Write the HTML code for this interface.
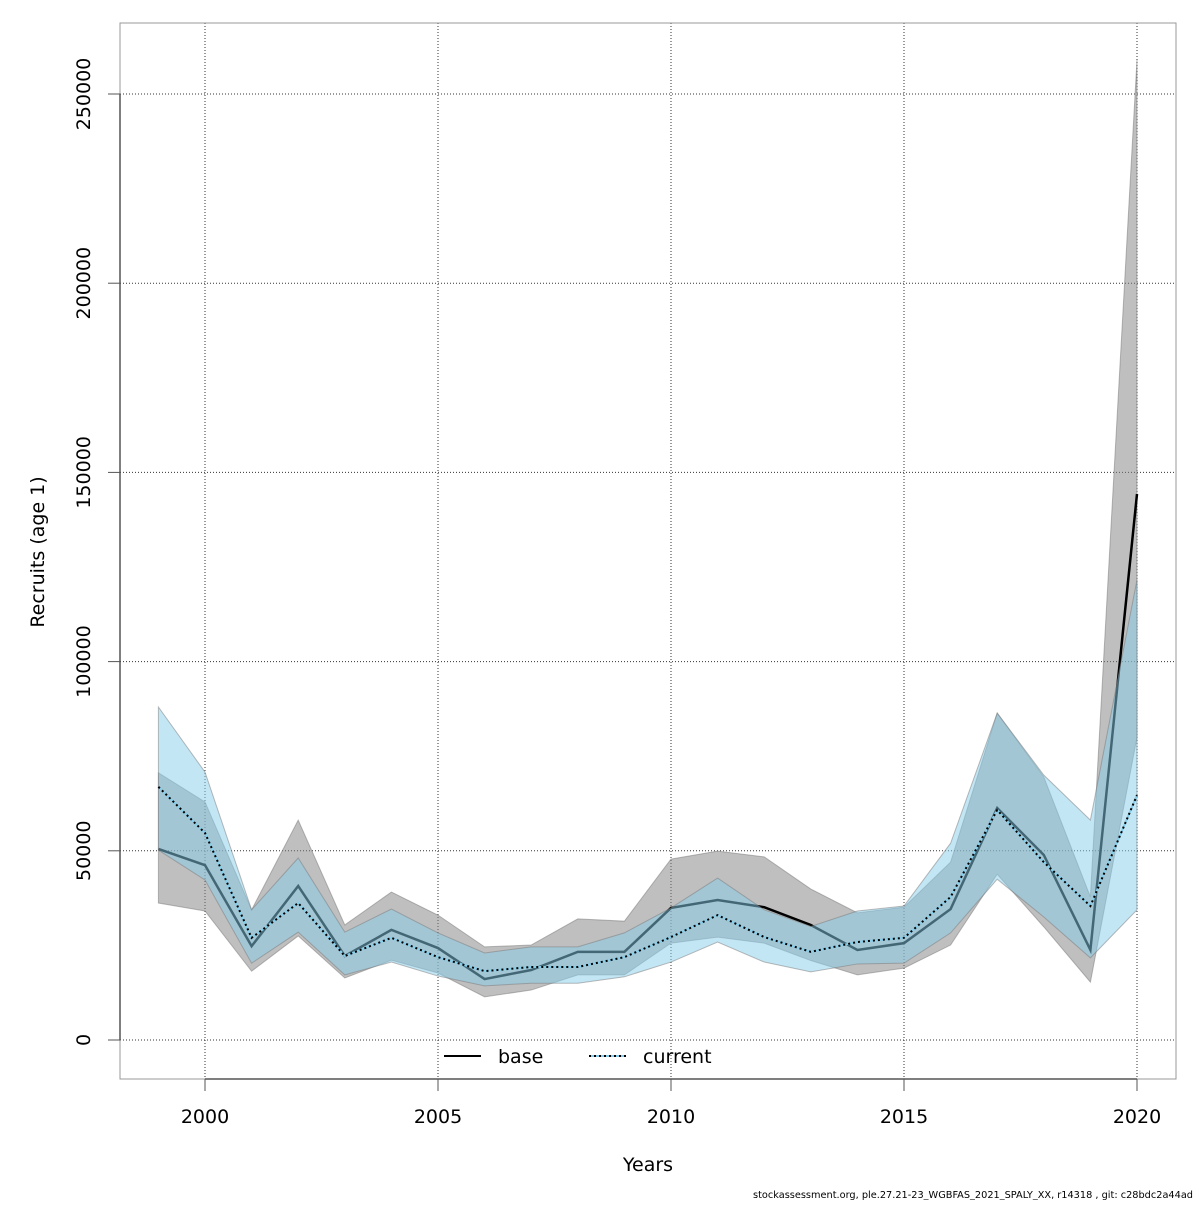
<!DOCTYPE html>
<html><head><meta charset="utf-8"><style>
html,body{margin:0;padding:0;background:#fff;}
svg text{font-family:"DejaVu Sans","Liberation Sans",sans-serif;}
</style></head><body>
<svg id="chart" width="1200" height="1200" viewBox="0 0 1200 1200" xmlns="http://www.w3.org/2000/svg">
<rect width="1200" height="1200" fill="#fff"/>
<g id="grid"></g>
<g id="series"></g>
<g id="axes"></g>
<text x="648" y="1171" font-size="19" text-anchor="middle">Years</text>
<text transform="translate(44,552) rotate(-90)" font-size="19" text-anchor="middle">Recruits (age 1)</text>
<text x="1193" y="1198" font-size="10" text-anchor="end" textLength="440" lengthAdjust="spacingAndGlyphs">stockassessment.org, ple.27.21-23_WGBFAS_2021_SPALY_XX, r14318 , git: c28bdc2a44ad</text>
<g>
<line x1="444" y1="1056" x2="481" y2="1056" stroke="#000" stroke-width="2"/>
<text x="498" y="1063" font-size="19">base</text>
<line x1="589" y1="1056" x2="626" y2="1056" stroke="#87ceeb" stroke-width="2"/>
<line x1="589" y1="1056" x2="626" y2="1056" stroke="#000" stroke-width="2" stroke-dasharray="2,3"/>
<text x="643" y="1063" font-size="19">current</text>
</g>
</svg>
<script>
const years=[1999,2000,2001,2002,2003,2004,2005,2006,2007,2008,2009,2010,2011,2012,2013,2014,2015,2016,2017,2018,2019,2020];
const baseVals=[50500,46200,24800,40700,22200,29100,24300,16100,18500,23300,23300,34900,37000,35100,30400,23800,25600,34600,61300,48900,23800,144300];
const baseLow=[36200,34100,18200,27500,16400,21100,17700,11400,13200,17200,17200,25600,27200,25600,21000,17200,19000,25100,43800,29900,15300,80000];
const baseHigh=[70600,62900,34400,58100,30400,39100,33000,24600,25100,32000,31400,47800,49900,48400,39900,33600,35100,47000,86400,69500,37800,259000];
const curVals=[66900,54700,27000,36200,22200,27000,21900,18200,19300,19300,21900,27200,33000,27200,23300,25900,27000,37800,60800,47000,35400,64700];
const curLow=[50200,42300,20300,28500,17200,20600,16900,14300,15000,15000,16700,20600,25900,20600,18000,20100,20300,28300,42500,32500,21700,34400];
const curHigh=[88000,70800,34400,48100,28500,34600,28300,23000,24600,24600,28300,34900,42800,34400,30000,34100,35400,52000,86400,70000,58100,121600];
const yTicks=[0,50000,100000,150000,200000,250000];
const xTicks=[2000,2005,2010,2015,2020];

const NS='http://www.w3.org/2000/svg';
function X(v){return 205+(v-2000)*(1137-205)/20;}
function Y(v){return 1040-v*(1040-94)/250000;}
function mk(tag,attrs,parent){const e=document.createElementNS(NS,tag);for(const k in attrs)e.setAttribute(k,attrs[k]);parent.appendChild(e);return e;}
const grid=document.getElementById('grid'),ser=document.getElementById('series'),ax=document.getElementById('axes');

yTicks.forEach(t=>{
  const l=mk('line',{x1:120,x2:1176,y1:Y(t),y2:Y(t),stroke:'#333','stroke-width':1,'stroke-dasharray':'1,2'},grid);
  
  
});
xTicks.forEach(t=>{
  const l=mk('line',{x1:X(t),x2:X(t),y1:23,y2:1079,stroke:'#333','stroke-width':1,'stroke-dasharray':'1,2'},grid);
  
  
});

function band(lo,hi,fill){
  let pts=years.map((y,i)=>X(y)+','+Y(hi[i]));
  for(let i=years.length-1;i>=0;i--)pts.push(X(years[i])+','+Y(lo[i]));
  return mk('polygon',{points:pts.join(' '),fill:fill,stroke:'rgba(120,120,120,0.5)','stroke-width':1},ser);
}
function line(vals,stroke,dash,w){
  const a={points:years.map((y,i)=>X(y)+','+Y(vals[i])).join(' '),fill:'none',stroke:stroke,'stroke-width':w};
  if(dash)a['stroke-dasharray']=dash;
  return mk('polyline',a,ser);
}
const b1=band(baseLow,baseHigh,'rgba(128,128,128,0.5)');


const l1=line(baseVals,'#000',null,2.5);


const b2=band(curLow,curHigh,'rgba(135,206,235,0.5)');


const l2=line(curVals,'#87ceeb',null,2);


const l3=line(curVals,'#000','2,3',2);



const box=mk('rect',{x:120,y:23,width:1056,height:1056,fill:'none',stroke:'#999','stroke-width':1},ax);


const yax=mk('line',{x1:120,x2:120,y1:Y(0),y2:Y(250000),stroke:'#555','stroke-width':1.5},ax);


const xax=mk('line',{x1:X(2000),x2:X(2020),y1:1079,y2:1079,stroke:'#555','stroke-width':1.5},ax);


yTicks.forEach(t=>{
  const tk=mk('line',{x1:108,x2:120,y1:Y(t),y2:Y(t),stroke:'#555','stroke-width':1},ax);
  
  
  const tx=mk('text',{transform:'translate(90,'+Y(t)+') rotate(-90)','font-size':19,'text-anchor':'middle'},ax);
  tx.textContent=String(t);
  
  
});
xTicks.forEach(t=>{
  const tk=mk('line',{x1:X(t),x2:X(t),y1:1079,y2:1091,stroke:'#555','stroke-width':1},ax);
  
  
  const tx=mk('text',{x:X(t),y:1123,'font-size':19,'text-anchor':'middle'},ax);
  tx.textContent=String(t);
  
  
});
</script>
</body></html>
